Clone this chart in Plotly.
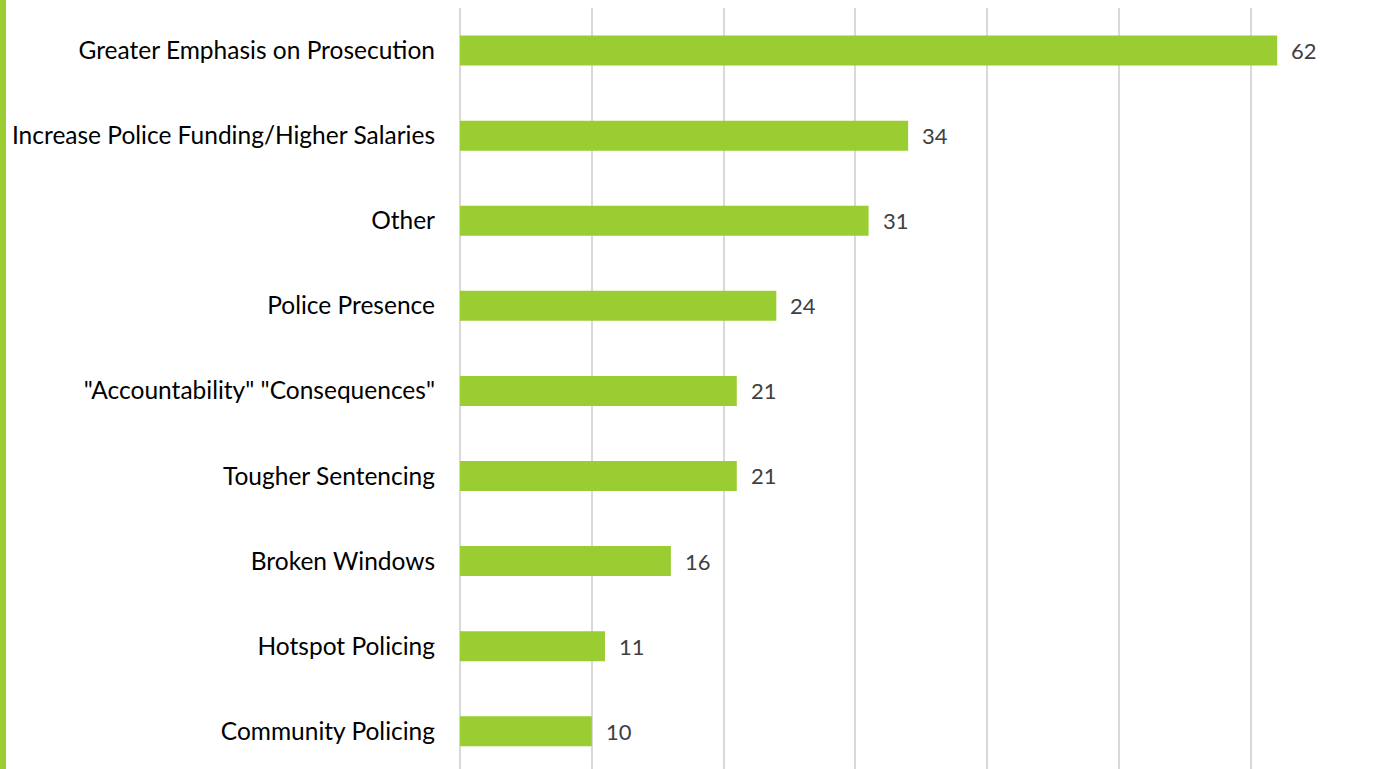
import plotly.graph_objects as go

categories = [
    "Greater Emphasis on Prosecution",
    "Increase Police Funding/Higher Salaries",
    "Other",
    "Police Presence",
    "\"Accountability\" \"Consequences\"",
    "Tougher Sentencing",
    "Broken Windows",
    "Hotspot Policing",
    "Community Policing",
]
values = [62, 34, 31, 24, 21, 21, 16, 11, 10]

BAR_COLOR = "#9ACD32"
FONT = "Lato"

fig = go.Figure()
fig.add_trace(go.Bar(
    x=values,
    y=categories,
    orientation="h",
    marker=dict(color=BAR_COLOR, line=dict(width=0)),
    width=0.3526,
    hoverinfo="skip",
))

for c, v in zip(categories, values):
    fig.add_annotation(
        x=v, y=c, text=str(v), showarrow=False,
        xanchor="left", yanchor="middle", xshift=12,
        font=dict(family=FONT, size=22, color="#404040"),
    )

# Left green stripe
fig.add_shape(
    type="rect", xref="paper", yref="paper",
    x0=-460 / 913, x1=-454 / 913, y0=-0.1, y1=1.1,
    fillcolor=BAR_COLOR, line=dict(width=0), layer="above",
)

fig.update_layout(
    width=1373, height=769,
    margin=dict(l=460, r=0, t=8, b=0, autoexpand=False),
    paper_bgcolor="white", plot_bgcolor="white",
    showlegend=False,
    xaxis=dict(
        range=[0, 69.27], dtick=10, showgrid=True,
        gridcolor="#D9D9D9", gridwidth=1.5,
        showticklabels=False, zeroline=True, zerolinecolor="#D9D9D9", zerolinewidth=1.5,
        showline=False, fixedrange=True,
    ),
    yaxis=dict(
        categoryorder="array", categoryarray=categories,
        range=[8.444, -0.5], showgrid=False, showline=False,
        ticks="", ticklabelstandoff=24,
        tickfont=dict(family=FONT, size=24.5, color="#000000"),
        fixedrange=True,
    ),
)

fig.write_html(
    "out.html",
    config={"displayModeBar": False},
    post_script="document.body.style.margin='0';",
)
